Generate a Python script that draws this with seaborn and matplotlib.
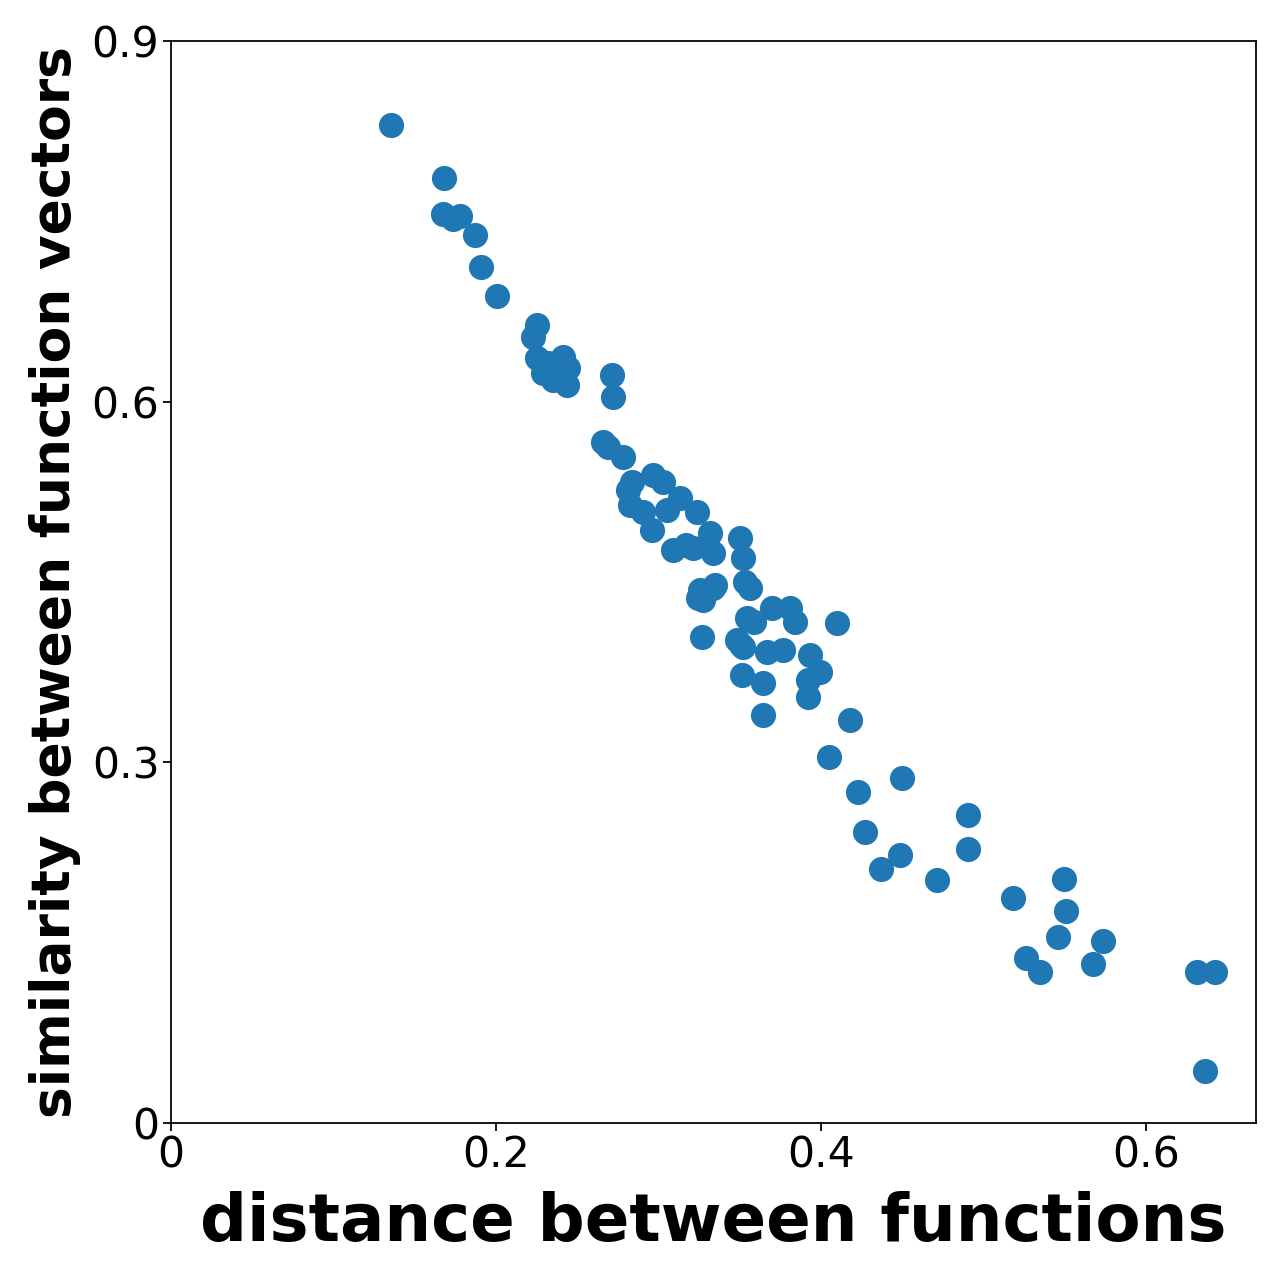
import matplotlib
matplotlib.use("Agg")
import matplotlib.pyplot as plt
import seaborn as sns
import numpy as np
import pandas as pd

# pixel-read positions converted to data
px = [391,444,443,453,460,475,481,497,537,533,537,543,563,568,567,553,612,613,603,608,623,632,653,663,630,643,652,680,667,697,710,740,673,693,713,
      707,743,750,700,713,703,702,747,772,790,795,737,743,767,783,837,810,820,808,808,742,763,763,850,
      829,858,902,865,900,881,937,968,968,1013,1064,1066,1058,1026,1040,1093,1103,1197,1215,1205,
      628,686,698,715,745,754,741,548]
py = [126,179,214,219,216,235,267,296,325,337,358,373,357,368,385,380,375,397,442,447,457,482,475,482,505,512,530,498,510,512,533,538,550,548,553,
      545,558,588,590,588,600,637,618,608,608,622,640,647,652,650,623,655,672,680,697,675,683,715,720,
      757,792,778,832,855,869,880,815,849,898,879,911,937,958,972,964,941,972,972,1071,
      490,545,598,585,582,622,645,363]

distance = [round((p - 171) / 1625, 4) for p in px]
similarity = [round((1123 - p) / 1201.7, 4) for p in py]

df = pd.DataFrame({"distance": distance, "similarity": similarity})

sns.set_style("ticks", {"axes.edgecolor": "black", "xtick.color": "black",
                        "ytick.color": "black", "text.color": "black",
                        "axes.labelcolor": "black"})
plt.rcParams['font.family'] = ['DejaVu Sans']
fig = plt.figure(figsize=(10, 10), dpi=128)
ax = fig.add_axes([0.1336, 0.1227, 0.9812 - 0.1336, 0.968 - 0.1227])
sns.scatterplot(data=df, x="distance", y="similarity", ax=ax, s=200,
                color="#1f77b4", linewidth=0, alpha=1)
ax.set_xlim(0, 0.6677)
ax.set_ylim(0, 0.9)
ax.set_xticks([0, 0.2, 0.4, 0.6])
ax.set_xticklabels(["0", "0.2", "0.4", "0.6"])
ax.set_yticks([0, 0.3, 0.6, 0.9])
ax.set_yticklabels(["0", "0.3", "0.6", "0.9"])
ax.tick_params(labelsize=24, length=4.5, width=1, pad=2, colors="black")
for s in ax.spines.values():
    s.set_visible(True)
    s.set_linewidth(1)
    s.set_color("black")
ax.set_xlabel("distance between functions", fontsize=37, fontweight="bold", labelpad=8, color="black")
ax.set_ylabel("similarity between function vectors", fontsize=30, fontweight="bold", labelpad=6, color="black")
fig.savefig("out.png", dpi=128)
